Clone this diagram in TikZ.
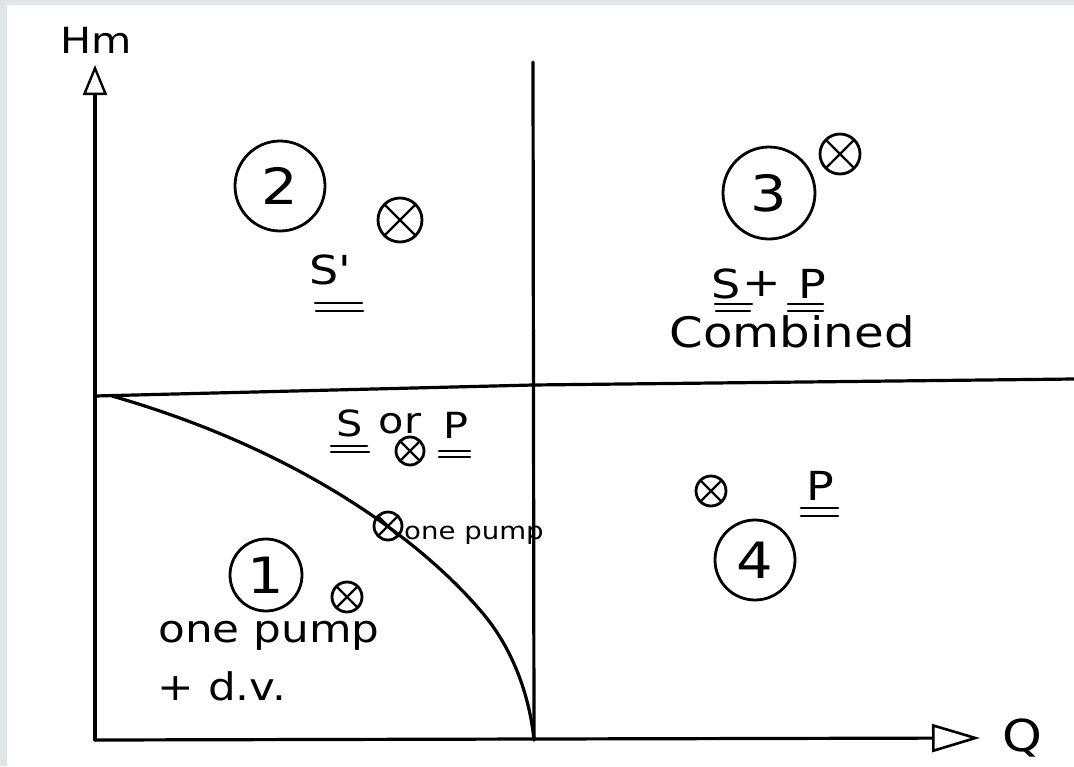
\documentclass[tikz,border=0pt]{standalone}
\usepackage{fontspec}
\setmainfont{DejaVu Sans}
\newfontfamily\hand[FakeStretch=1.15]{DejaVu Sans}
\usetikzlibrary{arrows.meta}
\definecolor{frame}{HTML}{DFE6EA}
\tikzset{
  ink/.style={line width=3.2pt, line cap=round, line join=round},
  num/.style={circle, draw, line width=2.8pt, minimum size=#1, inner sep=0pt, font=\hand\fontsize{50}{50}\selectfont},
  num/.default=80pt,
  omark/.style={circle, draw, line width=2.8pt, minimum size=#1, inner sep=0pt,
    path picture={\draw[line width=2.2pt] (path picture bounding box.north west) -- (path picture bounding box.south east)
      (path picture bounding box.north east) -- (path picture bounding box.south west);}},
  omark/.default=36pt,
  lbl/.style={font=\hand\fontsize{#1}{#1}\selectfont, inner sep=1pt},
  lbl/.default=40,
  uline/.style={line width=2.6pt, line cap=round}
}
\begin{document}
\begin{tikzpicture}[x=1pt, y=-1pt]
\useasboundingbox (0,0) rectangle (1074,766);
\fill[frame] (0,0) rectangle (1074,766);
\fill[white] (7,5) rectangle (1074,766);
% axes
\coordinate (O) at (95,740);
\coordinate (Ytop) at (95,65);
\coordinate (Xend) at (980,738);
\draw[ink, -{Triangle[open,length=30pt,width=24pt,line width=2.4pt]}] (O) -- (Ytop);
\draw[ink, -{Triangle[open,length=48pt,width=28pt,line width=2.6pt]}] (O) -- (Xend);
\node[lbl=36] (Hm) at (96,40) {Hm};
\node[lbl=44] (Q) at (1022,738) {Q};
% dividing lines
\coordinate (Vtop) at (533,62);
\coordinate (Vbot) at (534,740);
\draw[ink] (Vtop) -- (Vbot);
\coordinate (Hl) at (95,396);
\coordinate (Hm1) at (533,385);
\coordinate (Hr) at (1074,379);
\draw[ink] (Hl) -- (Hm1) -- (Hr);
% curve
\coordinate (C0) at (112,396);
\coordinate (C1) at (480,610);
\draw[ink] (C0) .. controls (300,450) and (420,540) .. (C1) .. controls (515,650) and (530,700) .. (Vbot);
% region 2
\node[num=90pt] (n2) at (280,186) {2};
\node[omark=44pt] (x2) at (400,220) {};
\node[lbl=40] (s2) at (330,270) {S'};
\draw[uline] (315,303) -- (362,303) (316,311) -- (363,311);
% region 3
\node[num=92pt] (n3) at (769,193) {3};
\node[omark=40pt] (x3) at (840,154) {};
\node[lbl=40] (s3) at (726,284) {S};
\node[lbl=40] (plus3) at (762,284) {+};
\node[lbl=40] (p3) at (812,284) {P};
\draw[uline] (715,304) -- (752,304) (716,311) -- (750,311);
\draw[uline] (788,304) -- (823,304) (788,311) -- (823,311);
\node[lbl=42] (comb) at (792,332) {Combined};
% S or P
\node[lbl=36] (s5) at (350,423) {S};
\node[lbl=36] (or5) at (400,424) {or};
\node[lbl=36] (p5) at (456,425) {P};
\draw[uline] (331,446) -- (367,446) (331,452) -- (369,452);
\draw[uline] (439,451) -- (470,451) (439,457) -- (470,457);
\node[omark=28pt] (x5) at (410,451) {};
% on curve
\node[omark=28pt] (x6) at (388,526) {};
\node[lbl=24, anchor=west] (op) at (403,535) {one pump};
% region 1
\node[num=72pt] (n1) at (266,575) {1};
\node[omark=30pt] (x1) at (347,597) {};
\node[lbl=38] (op1) at (269,636) {one pump};
\node[lbl=38] (dv) at (222,686) {+ d.v.};
% region 4
\node[omark=30pt] (x4) at (711,491) {};
\node[lbl=40] (p4) at (820,486) {P};
\draw[uline] (801,508) -- (838,508) (801,516) -- (838,516);
\node[num=80pt] (n4) at (755,560) {4};
\end{tikzpicture}
\end{document}
